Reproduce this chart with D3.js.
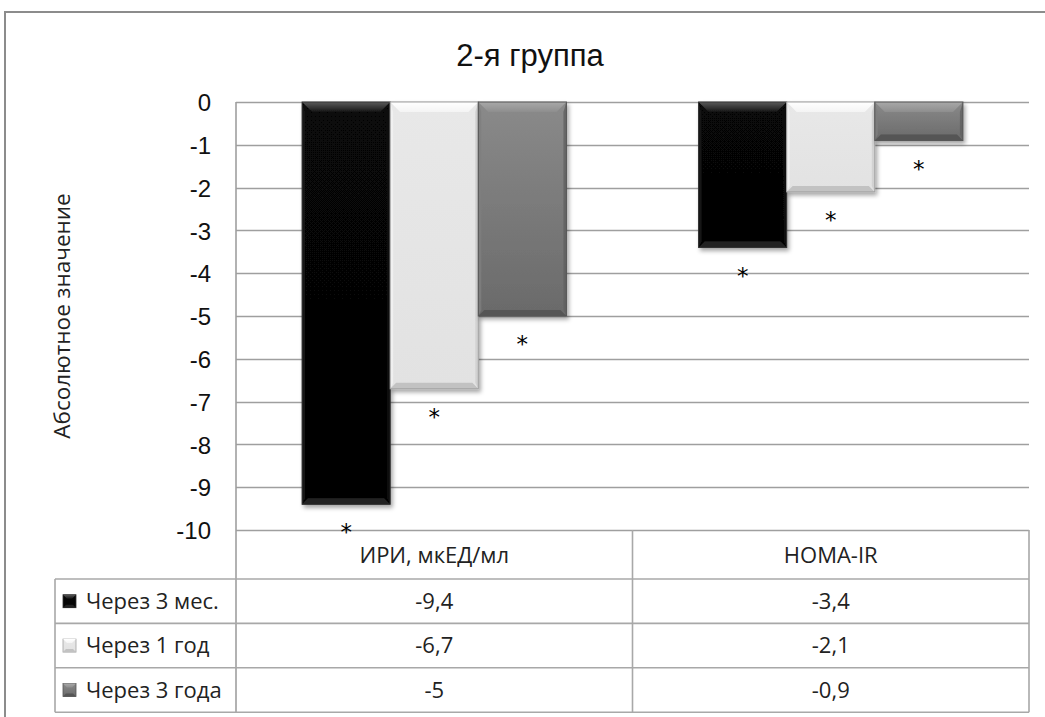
<!DOCTYPE html>
<html lang="ru">
<head>
<meta charset="utf-8">
<script src="https://cdn.jsdelivr.net/npm/d3@7"></script>
<style>
  html, body { margin: 0; padding: 0; background: #fff; }
  svg { display: block; }
</style>
</head>
<body>
<script>
// Chart data
const title = "2-я группа";
const yAxisTitle = "Абсолютное значение";
const categories = ["ИРИ, мкЕД/мл", "HOMA-IR"];
const seriesNames = ["Через 3 мес.", "Через 1 год", "Через 3 года"];
const after3Months = [-9.4, -3.4];
const after1Year = [-6.7, -2.1];
const after3Years = [-5, -0.9];
const yTicks = [0, -1, -2, -3, -4, -5, -6, -7, -8, -9, -10];
const significanceMark = "*";

const seriesValues = [after3Months, after1Year, after3Years];

const W = 1045, H = 717;
const plot = { left: 236, right: 1029, top: 102, bottom: 530 };
const headerH = 49, rowH = 44.4, tableLeft = 55;

// Bar styles: body gradient, bevel tones, outline
const styles = [
  { top: "#070707", bot: "#050505", bevelTop: ["#5a5a5a", "#151515"], side: "#161616", sideR: "#0c0c0c", bottom: "#222222", stroke: "#333" },
  { top: "#e8e8e8", bot: "#e2e2e2", bevelTop: ["#ffffff", "#f4f4f4"], side: "#f2f2f2", sideR: "#cdcdcd", bottom: "#c2c2c2", stroke: "#a0a0a0" },
  { top: "#8a8a8a", bot: "#6a6a6a", bevelTop: ["#a8a8a8", "#8e8e8e"], side: "#7e7e7e", sideR: "#606060", bottom: "#555555", stroke: "#555" }
];

const svg = d3.select("body").append("svg")
  .attr("width", W).attr("height", H)
  .attr("viewBox", `0 0 ${W} ${H}`);

const defs = svg.append("defs");
const shadow = defs.append("filter").attr("id", "shadow")
  .attr("x", "-20%").attr("y", "-20%").attr("width", "140%").attr("height", "140%");
shadow.append("feDropShadow").attr("dx", 2).attr("dy", 3).attr("stdDeviation", 2.2)
  .attr("flood-color", "#000").attr("flood-opacity", 0.35);

styles.forEach((s, i) => {
  const g = defs.append("linearGradient").attr("id", "body" + i)
    .attr("x1", 0).attr("y1", 0).attr("x2", 0).attr("y2", 1);
  g.append("stop").attr("offset", "0%").attr("stop-color", s.top);
  g.append("stop").attr("offset", "100%").attr("stop-color", s.bot);
  const b = defs.append("linearGradient").attr("id", "bevel" + i)
    .attr("x1", 0).attr("y1", 0).attr("x2", 0).attr("y2", 1);
  b.append("stop").attr("offset", "0%").attr("stop-color", s.bevelTop[0]);
  b.append("stop").attr("offset", "100%").attr("stop-color", s.bevelTop[1]);
});

// Outer chart frame
svg.append("path")
  .attr("d", `M5,${H + 2} L5,12 L${W + 2},12`)
  .attr("fill", "none").attr("stroke", "#8c8c8c").attr("stroke-width", 2);

// Title
svg.append("text")
  .attr("x", 530).attr("y", 66)
  .attr("text-anchor", "middle")
  .attr("font-family", "'Liberation Sans', Arial, sans-serif")
  .attr("font-size", 31).attr("fill", "#111")
  .text(title);

// Scales
const y = d3.scaleLinear().domain([0, -10]).range([plot.top, plot.bottom]);
const x = d3.scaleBand().domain(categories).range([plot.left, plot.right]).padding(0);
const xs = d3.scaleBand().domain(d3.range(seriesNames.length))
  .range([0, x.bandwidth()]).paddingInner(0).paddingOuter(0.75);

// Gridlines
svg.append("g")
  .selectAll("line").data(yTicks).join("line")
  .attr("x1", plot.left).attr("x2", plot.right)
  .attr("y1", d => Math.round(y(d)) + 0.5).attr("y2", d => Math.round(y(d)) + 0.5)
  .attr("stroke", "#9f9f9f").attr("stroke-width", 1.3);

// Y axis tick labels
const yAxis = d3.axisLeft(y).tickValues(yTicks).tickSize(0).tickPadding(0)
  .tickFormat(d => d3.format("d")(d).replace("−", "-"));
const yAxisG = svg.append("g").attr("transform", `translate(${plot.left - 25},0)`).call(yAxis);
yAxisG.select(".domain").remove();
yAxisG.selectAll("text")
  .attr("font-family", "'Liberation Sans', Arial, sans-serif")
  .attr("font-size", 24).attr("fill", "#111").attr("dy", "0.36em");

// Y axis title
svg.append("text")
  .attr("transform", `translate(70,${316}) rotate(-90)`)
  .attr("text-anchor", "middle")
  .attr("font-family", "'Open Sans', sans-serif")
  .attr("font-size", 22.5).attr("fill", "#222")
  .text(yAxisTitle);

// Bevelled bar
function bevelBar(g, x0, x1, y0, y1, si, bev) {
  const s = styles[si];
  const t = Math.min(bev.t, (y1 - y0) / 2), bb = Math.min(bev.b, (y1 - y0) / 3), sd = bev.s;
  const grp = g.append("g").attr("filter", "url(#shadow)");
  grp.append("rect").attr("x", x0).attr("y", y0).attr("width", x1 - x0).attr("height", y1 - y0)
    .attr("fill", `url(#body${si})`);
  // left side
  grp.append("polygon").attr("points", [[x0, y0], [x0 + sd, y0 + t], [x0 + sd, y1 - bb], [x0, y1]].join(" "))
    .attr("fill", s.side).attr("opacity", 0.8);
  // right side
  grp.append("polygon").attr("points", [[x1, y0], [x1 - sd, y0 + t], [x1 - sd, y1 - bb], [x1, y1]].join(" "))
    .attr("fill", s.sideR).attr("opacity", 0.8);
  // top bevel
  grp.append("polygon").attr("points", [[x0, y0], [x1, y0], [x1 - t, y0 + t], [x0 + t, y0 + t]].join(" "))
    .attr("fill", `url(#bevel${si})`);
  // bottom bevel
  grp.append("polygon").attr("points", [[x0, y1], [x1, y1], [x1 - bb, y1 - bb], [x0 + bb, y1 - bb]].join(" "))
    .attr("fill", s.bottom);
  grp.append("rect").attr("x", x0).attr("y", y0).attr("width", x1 - x0).attr("height", y1 - y0)
    .attr("fill", "none").attr("stroke", s.stroke).attr("stroke-width", 1);
}

// Bars and significance marks
const barsG = svg.append("g");
const marksG = svg.append("g");
seriesValues.forEach((vals, si) => {
  vals.forEach((v, ci) => {
    const x0 = x(categories[ci]) + xs(si);
    const x1 = x0 + xs.bandwidth();
    bevelBar(barsG, x0, x1, y(0), y(v), si, { t: 10, b: 6, s: 3 });
    marksG.append("text")
      .attr("x", (x0 + x1) / 2).attr("y", y(v) + 36)
      .attr("text-anchor", "middle")
      .attr("font-family", "'DejaVu Sans', sans-serif")
      .attr("font-size", 23).attr("fill", "#000")
      .text(significanceMark);
  });
});

// Data table
const tableG = svg.append("g");
const lineColor = "#a8a8a8";
const tableTop = plot.bottom;
const rowsTop = tableTop + headerH;
const tableBottom = rowsTop + rowH * seriesNames.length;
const tableFont = "'Open Sans', sans-serif";
const tableFontSize = 22;

// vertical lines
[plot.left, x(categories[1]), plot.right].forEach(xv => {
  tableG.append("line").attr("x1", xv).attr("x2", xv)
    .attr("y1", xv === plot.left ? plot.top : tableTop).attr("y2", tableBottom)
    .attr("stroke", xv === plot.left ? "#9f9f9f" : lineColor).attr("stroke-width", 1.6);
});
tableG.append("line").attr("x1", tableLeft).attr("x2", tableLeft)
  .attr("y1", rowsTop).attr("y2", tableBottom)
  .attr("stroke", lineColor).attr("stroke-width", 1.6);
// horizontal lines
d3.range(seriesNames.length + 1).forEach(r => {
  const yy = rowsTop + r * rowH;
  tableG.append("line").attr("x1", tableLeft).attr("x2", plot.right)
    .attr("y1", yy).attr("y2", yy)
    .attr("stroke", lineColor).attr("stroke-width", 1.6);
});

// header
categories.forEach(c => {
  tableG.append("text")
    .attr("x", x(c) + x.bandwidth() / 2).attr("y", tableTop + headerH / 2 + 1)
    .attr("dy", "0.35em").attr("text-anchor", "middle")
    .attr("font-family", tableFont).attr("font-size", tableFontSize).attr("fill", "#222")
    .text(c);
});

// rows
seriesNames.forEach((name, si) => {
  const cy = rowsTop + rowH * si + rowH / 2;
  const mx = 63, ms = 13;
  const s = styles[si];
  const mg = tableG.append("g");
  mg.append("rect").attr("x", mx).attr("y", cy - ms / 2).attr("width", ms).attr("height", ms)
    .attr("fill", `url(#body${si})`).attr("stroke", s.stroke).attr("stroke-width", 0.8);
  mg.append("polygon")
    .attr("points", [[mx, cy - ms / 2], [mx + ms, cy - ms / 2], [mx + ms - 4, cy - ms / 2 + 4], [mx + 4, cy - ms / 2 + 4]].join(" "))
    .attr("fill", `url(#bevel${si})`);
  mg.append("polygon")
    .attr("points", [[mx, cy + ms / 2], [mx + ms, cy + ms / 2], [mx + ms - 3, cy + ms / 2 - 3], [mx + 3, cy + ms / 2 - 3]].join(" "))
    .attr("fill", s.bottom);
  tableG.append("text")
    .attr("x", 86).attr("y", cy).attr("dy", "0.35em")
    .attr("font-family", tableFont).attr("font-size", tableFontSize).attr("fill", "#222")
    .text(name);
  seriesValues[si].forEach((v, ci) => {
    tableG.append("text")
      .attr("x", x(categories[ci]) + x.bandwidth() / 2).attr("y", cy).attr("dy", "0.35em")
      .attr("text-anchor", "middle")
      .attr("font-family", tableFont).attr("font-size", tableFontSize).attr("fill", "#222")
      .text(String(v).replace(".", ","));
  });
});
</script>
</body>
</html>
